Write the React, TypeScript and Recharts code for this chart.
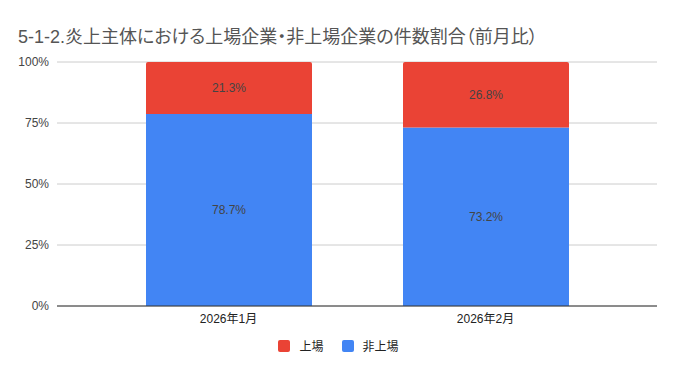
import { Bar, BarChart, CartesianGrid, LabelList, Legend, XAxis, YAxis } from "recharts";

const months = ["2026年1月", "2026年2月"];
const listed = [21.3, 26.8];
const unlisted = [78.7, 73.2];
const yTicks = [0, 25, 50, 75, 100];

const data = months.map((m, i) => ({
  name: m,
  listed: listed[i],
  unlisted: unlisted[i],
}));

const FONT = '"Liberation Sans", Arial, "Noto Sans CJK JP", sans-serif';
const RED = "#EA4335";
const BLUE = "#4285F4";

const legendItems = [
  { label: "上場", color: RED },
  { label: "非上場", color: BLUE },
];

function LegendContent() {
  return (
    <div style={{ display: "flex", justifyContent: "center", paddingTop: 1, paddingLeft: 20, fontFamily: FONT, fontSize: 12, color: "#222" }}>
      {legendItems.map((it) => (
        <div key={it.label} style={{ display: "flex", alignItems: "center", margin: "0 9px" }}>
          <span style={{ display: "inline-block", width: 12, height: 12, borderRadius: 2, background: it.color, marginRight: 9 }} />
          <span>{it.label}</span>
        </div>
      ))}
    </div>
  );
}

const pct = (v: any) => `${Number(v).toFixed(1)}%`;

export default function App() {
  return (
    <div style={{ position: "absolute", left: 0, top: 0, width: 677, height: 371, background: "#fff" }}>
      <div
        style={{
          position: "absolute",
          left: 18,
          top: 22,
          fontFamily: FONT,
          fontSize: 18,
          color: "#555",
          fontFeatureSettings: '"palt"',
          whiteSpace: "nowrap",
        }}
      >
        5-1-2.炎上主体における上場企業・非上場企業の件数割合（前月比）
      </div>
      <BarChart
        width={677}
        height={371}
        data={data}
        margin={{ top: 62, right: 20, bottom: 0, left: 0 }}
        style={{ fontFamily: FONT }}
      >
        <CartesianGrid vertical={false} stroke="#cccccc" />
        <XAxis
          dataKey="name"
          padding={{ left: 43, right: 43 }}
          axisLine={{ stroke: "#333" }}
          tickLine={false}
          tick={{ fill: "#222", fontSize: 12 }}
          height={30}
        />
        <YAxis
          domain={[0, 100]}
          ticks={yTicks}
          tickFormatter={(v) => `${v}%`}
          axisLine={false}
          tickLine={false}
          tick={{ fill: "#444", fontSize: 12 }}
          width={57}
        />
        <Legend verticalAlign="bottom" height={35} content={<LegendContent />} />
        <Bar dataKey="unlisted" name="非上場" stackId="a" fill={BLUE} barSize={166} isAnimationActive={false}>
          <LabelList dataKey="unlisted" position="center" formatter={pct} fill="#444" fontSize={12} />
        </Bar>
        <Bar dataKey="listed" name="上場" stackId="a" fill={RED} barSize={166} radius={[2, 2, 0, 0]} isAnimationActive={false}>
          <LabelList dataKey="listed" position="center" formatter={pct} fill="#444" fontSize={12} />
        </Bar>
      </BarChart>
    </div>
  );
}
